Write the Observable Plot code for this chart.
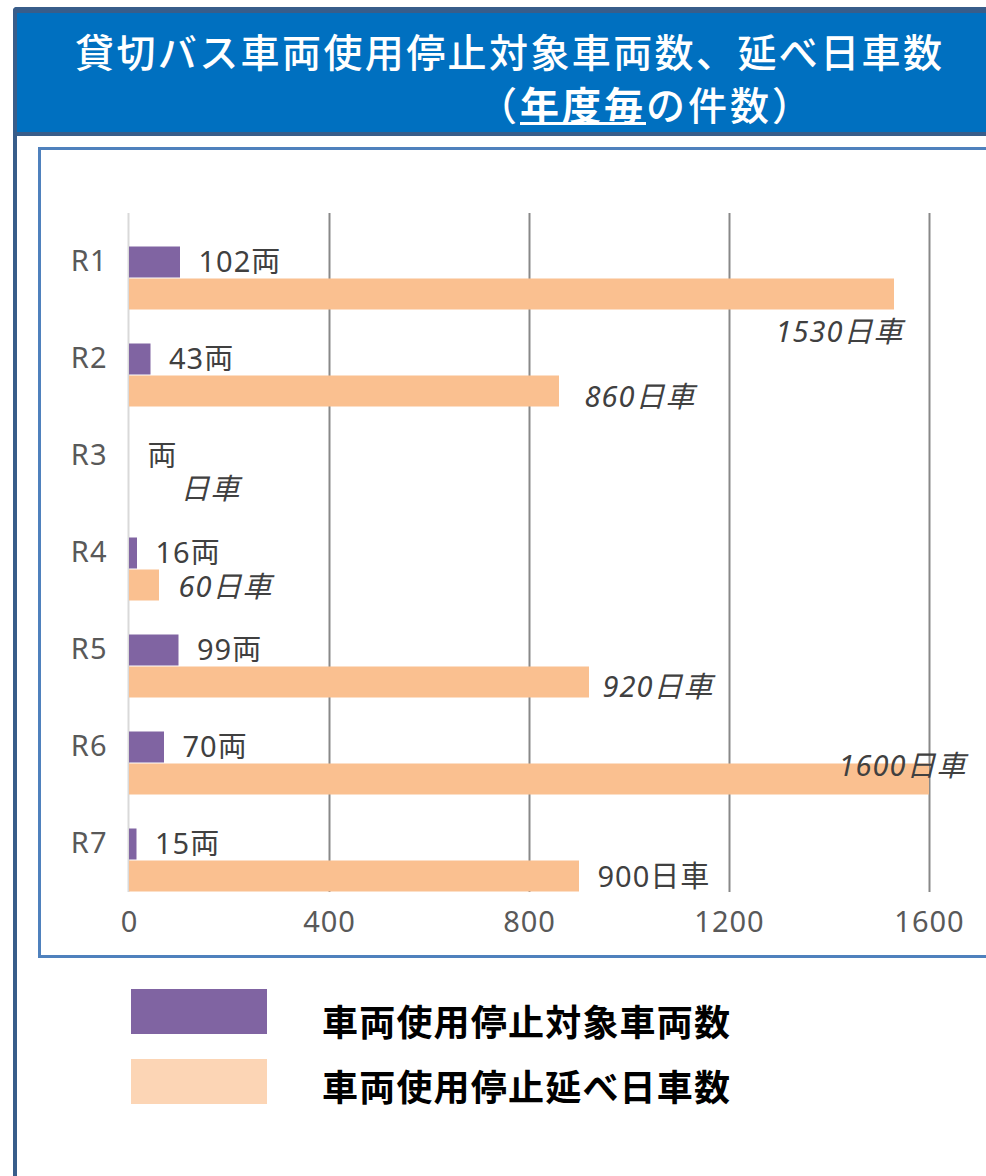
<!DOCTYPE html>
<html lang="ja">
<head>
<meta charset="utf-8">
<script src="https://cdn.jsdelivr.net/npm/d3@7"></script>
<script src="https://cdn.jsdelivr.net/npm/@observablehq/plot@0.6"></script>
<style>
  html, body { margin: 0; padding: 0; background: #fff; }
  body { width: 986px; height: 1176px; position: relative; overflow: hidden;
         font-family: "Noto Sans CJK JP", "Noto Sans", sans-serif; }
  .outer { position: absolute; left: 13px; top: 7px; width: 1100px; height: 1300px;
           border-left: 4px solid #385D8A; border-top: 6px solid #385D8A; border-top-left-radius: 4px; }
  .titlebar { position: absolute; left: 17px; top: 13px; width: 1000px; height: 119px;
              background: #0070C0; border-bottom: 4px solid #385D8A; }
  .t1, .t2 { position: absolute; color: #fff; font-size: 39px; line-height: 39px;
             font-weight: 500; letter-spacing: 2.4px; white-space: nowrap; }
  .t1 { left: 75px; top: 31px; }
  .t2 { left: 478px; top: 84px; letter-spacing: 3px; }
  .t2 .u { font-weight: 700; border-bottom: 3px solid #fff; display: inline-block; line-height: 37px; }
  .box { position: absolute; left: 38px; top: 147px; width: 1000px; height: 805px;
         border: 3px solid #4F81BD; }
  #chart { position: absolute; left: 41px; top: 150px; }
  #chart text { letter-spacing: 1px; }
  .legend-sw { position: absolute; left: 131px; width: 136px; height: 45px; }
  .legend-tx { position: absolute; left: 322px; font-size: 36px; line-height: 36px; font-weight: 700;
               color: #000; letter-spacing: 1.2px; white-space: nowrap; }
</style>
</head>
<body>
<div class="outer"></div>
<div class="titlebar"></div>
<div class="t1">貸切バス車両使用停止対象車両数、延べ日車数</div>
<div class="t2">（<span class="u">年度毎</span>の件数）</div>
<div class="box"></div>
<div id="chart"></div>
<div id="legend"></div>
<script>
// ---- data ----
const categories = ["R1", "R2", "R3", "R4", "R5", "R6", "R7"];
const vehicles = [102, 43, null, 16, 99, 70, 15];          // 車両使用停止対象車両数 (両)
const vehicleDays = [1530, 860, null, 60, 920, 1600, 900];  // 車両使用停止延べ日車数 (日車)
const seriesNames = ["車両使用停止対象車両数", "車両使用停止延べ日車数"];
const unitLabels = ["両", "日車"];
const xTicks = [0, 400, 800, 1200, 1600];

// ---- layout (label nudges as placed in the original) ----
const dayLabelLayout = [
  {dx: -119, dy: 38, italic: true},
  {dx: 25, dy: 6, italic: true},
  {dx: 51, dy: 1, italic: true},
  {dx: 19, dy: 2, italic: true},
  {dx: 13, dy: 5, italic: true},
  {dx: -91, dy: -13, italic: true},
  {dx: 18, dy: 1, italic: false}
];
const colors = ["#8064A2", "#FAC090"];
const legendColors = ["#8064A2", "#FCD5B5"];

const gapSlot = " ";
const vehRows = categories.map((c, i) => ({cat: c, series: seriesNames[0], value: vehicles[i]}));
const dayRows = categories.map((c, i) => ({cat: c, series: seriesNames[1], value: vehicleDays[i]}));
const rows = vehRows.concat(dayRows);

const dayLabelMarks = dayRows.map((d, i) => Plot.text([d], {
  x: r => r.value ?? 0,
  y: "series",
  fy: "cat",
  text: r => (r.value ?? "") + unitLabels[1],
  textAnchor: "start",
  dx: dayLabelLayout[i].dx,
  dy: dayLabelLayout[i].dy,
  fontSize: 29,
  fontStyle: dayLabelLayout[i].italic ? "italic" : "normal",
  fill: "#404040"
}));

const chart = Plot.plot({
  width: 945,
  height: 805,
  marginLeft: 88,
  marginRight: 57,
  marginTop: 62,
  marginBottom: 62,
  style: {fontSize: "29px", fontFamily: "'Noto Sans', 'Noto Sans CJK JP', sans-serif", color: "#595959", background: "transparent"},
  x: {domain: [0, 1600], ticks: xTicks, tickFormat: d => String(d), tickSize: 0, tickPadding: 19, label: null},
  y: {domain: [gapSlot, ...seriesNames], padding: 0, axis: null},
  fy: {domain: categories, padding: 0, axis: "left", tickSize: 0, tickPadding: 22, label: null},
  color: {domain: seriesNames, range: colors},
  marks: [
    Plot.ruleX(xTicks.slice(1), {stroke: "#888888", strokeWidth: 2}),
    Plot.ruleX([0], {stroke: "#D9D9D9", strokeWidth: 2, dx: -1}),
    Plot.barX(rows.filter(d => d.value != null), {
      x: "value", y: "series", fy: "cat", fill: "series", insetTop: 0.5, insetBottom: 0.5
    }),
    Plot.text(vehRows, {
      x: d => d.value ?? 0,
      y: "series",
      fy: "cat",
      text: d => (d.value ?? "") + unitLabels[0],
      textAnchor: "start",
      dx: 18,
      dy: 0,
      fontSize: 29,
      fill: "#404040"
    }),
    ...dayLabelMarks
  ]
});
document.getElementById("chart").appendChild(chart);

// ---- legend ----
const legend = document.getElementById("legend");
const swTops = [989, 1059];
const txTops = [1002, 1067];
seriesNames.forEach((name, i) => {
  const sw = document.createElement("div");
  sw.className = "legend-sw";
  sw.style.top = swTops[i] + "px";
  sw.style.background = legendColors[i];
  legend.appendChild(sw);
  const tx = document.createElement("div");
  tx.className = "legend-tx";
  tx.style.top = txTops[i] + "px";
  tx.textContent = name;
  legend.appendChild(tx);
});
</script>
</body>
</html>
